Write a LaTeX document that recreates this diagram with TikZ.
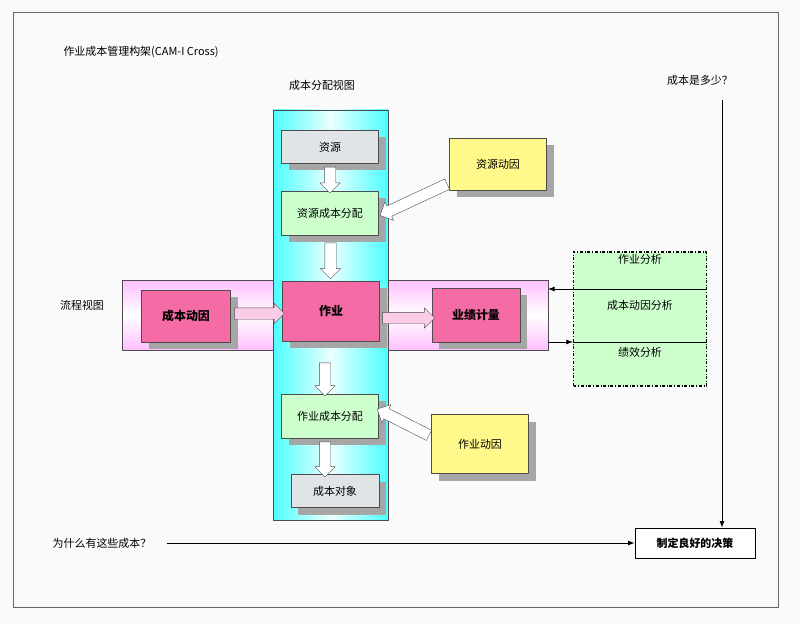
\documentclass[tikz,border=0pt]{standalone}
\usepackage{fontspec}
\setmainfont{Noto Sans CJK SC}
\usetikzlibrary{arrows.meta}
\usetikzlibrary{shapes, shadows}

\tikzset{
  box/.style={draw=black!70, minimum width=97bp, font=\fontsize{11}{13}\selectfont, drop shadow={shadow xshift=7bp, shadow yshift=-7bp, fill=black!35, opacity=1}},
  res/.style={box, fill=cyan!10!gray!25, minimum height=33bp},
  alloc/.style={box, fill=green!20, minimum height=44bp},
  act/.style={box, fill=magenta!45!pink, minimum height=60bp, font=\bfseries\fontsize{12}{14}\selectfont},
  drv/.style={box, fill=yellow!45, minimum height=54bp},
  fat/.style={single arrow, draw=black!70, fill=white, inner xsep=0pt, inner ysep=5.5bp, single arrow head extend=4.5bp, single arrow tip angle=90},
  txt/.style={font=\fontsize{11}{13}\selectfont}
}

\begin{document}
\begin{tikzpicture}[x=1bp,y=-1bp,>=Latex,line join=bevel]
%%
\useasboundingbox (0,0) rectangle (800,624);
\fill[black!2] (0,0) rectangle (800,624);
\draw[black!60] (13,12) rectangle (778,607);
%% views
\shade[left color=cyan!70, right color=cyan!70, middle color=cyan!8, draw=black!70] (273,110) rectangle (388,520);
\shade[top color=magenta!25, bottom color=magenta!25, middle color=white, draw=black!70] (122,280) rectangle (273,350);
\shade[top color=magenta!25, bottom color=magenta!25, middle color=white, draw=black!70] (388,280) rectangle (548,350);
\draw[black!70] (273,280) -- (273,350) (388,280) -- (388,350);
%% nodes
\node (title) at (60,52) [anchor=west, txt] {作业成本管理构架(CAM-I Cross)};
\node (view_cost) at (322,85) [txt] {成本分配视图};
\node (view_flow) at (82,305) [txt] {流程视图};
\node (node_res) at (330,147) [res] {资源};
\node (node_ralloc) at (330,213) [alloc] {资源成本分配};
\node (node_act) at (331,311) [act] {作业};
\node (node_cdrv) at (186,316) [act, minimum width=89bp, minimum height=52bp] {成本动因};
\node (node_perf) at (476,315) [act, minimum width=88bp, minimum height=54bp] {业绩计量};
\node (node_aalloc) at (330,416) [alloc] {作业成本分配};
\node (node_obj) at (335,491) [res, minimum width=88bp] {成本对象};
\node (node_rdrv) at (498,164) [drv, minimum height=52bp] {资源动因};
\node (node_adrv) at (480,444) [drv, minimum height=59bp] {作业动因};
%% analysis
\node (node_ana) at (640,319) [draw, dash dot, very thick, fill=green!20, minimum width=133bp, minimum height=134bp] {};
\node (ana_1) at (640,259) [txt] {作业分析};
\node (ana_2) at (640,305) [txt] {成本动因分析};
\node (ana_3) at (640,352) [txt] {绩效分析};
\coordinate (in_r) at (548,289);
\coordinate (out_r) at (548,342);
\draw[thick,->] (node_ana.east |- in_r) -- (in_r);
\draw[thick,->] (out_r) -- (node_ana.west |- out_r);
\draw[thick] (node_ana.west |- out_r) -- (node_ana.east |- out_r);
%% decision
\node (q_how) at (700,80) [txt] {成本是多少？};
\node (q_why) at (102,543) [txt] {为什么有这些成本？};
\node (node_dec) at (695,543) [draw, thick, fill=white, minimum width=120bp, minimum height=30bp, font=\bfseries\fontsize{11}{13}\selectfont] {制定良好的决策};
\coordinate (top_line) at (722,100);
\draw[thick,->] (top_line) -- (top_line |- node_dec.north);
\draw[thick,->] (q_why.east) ++(12,0) coordinate (why_end) -- (node_dec.west);
%% hollow arrows
\path (node_res.south) -- node[fat, rotate=-90, minimum height=26bp] {} (node_ralloc.north);
\path (node_ralloc.south) -- node[fat, rotate=-90, minimum height=36bp] {} (node_act.north);
\path (325,360) coordinate (a_top) -- node[fat, rotate=-90, minimum height=33bp] {} (325,393) coordinate (a_bot);
\path (325,439) coordinate (b_top) -- node[fat, rotate=-90, minimum height=35bp] {} (325,474) coordinate (b_bot);
\path (node_cdrv.east) -- node[fat, fill=magenta!20, minimum height=50bp] {} (node_act.west);
\path (node_act.east) ++(0,7) coordinate (c_s) -- node[fat, fill=magenta!20, minimum height=52bp] {} (node_perf.west |- c_s);
\path (node_rdrv.south west) ++(0,-8) coordinate (d_s) -- node[fat, rotate=205, minimum height=74bp] {} (383,215);
\path (node_adrv.west) ++(0,-7) coordinate (e_s) -- node[fat, rotate=153, minimum height=58bp] {} (380,410);
%
\end{tikzpicture}
\end{document}
